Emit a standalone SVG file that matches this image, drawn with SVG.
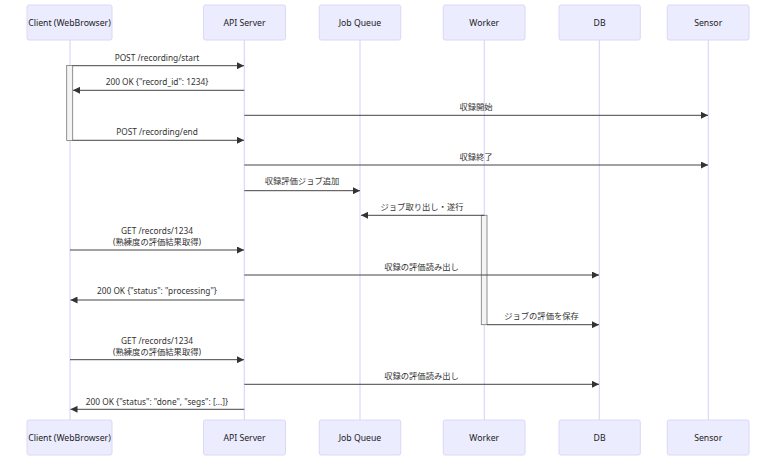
<svg xmlns="http://www.w3.org/2000/svg" width="784" height="467" viewBox="0 0 784 467">
<style>
.actor{fill:#ECECFF;stroke:#dcd6f7;stroke-width:1}
.atext{font-family:"Noto Sans","DejaVu Sans",sans-serif;font-size:8.7px;fill:#222;text-anchor:middle;dominant-baseline:central}
.life{stroke:#ddd6f8;stroke-width:1.2}
.msg{stroke:#444;stroke-width:1;fill:none;marker-end:url(#ah)}
.mtext{font-family:"Noto Sans","Noto Sans CJK JP",sans-serif;font-size:8.3px;fill:#333;text-anchor:middle;dominant-baseline:central}
.act{fill:#f4f4f4;stroke:#777;stroke-width:0.8}
</style>
<defs>
<marker id="ah" markerUnits="userSpaceOnUse" markerWidth="8" markerHeight="7" refX="7" refY="3.5" orient="auto">
<path d="M0,0 L7,3.5 L0,7 z" fill="#333"/>
</marker>
</defs>
<g id="lifelines">
<line class="life" x1="70" y1="40" x2="70" y2="420"/>
<line class="life" x1="244.3" y1="40" x2="244.3" y2="420"/>
<line class="life" x1="360" y1="40" x2="360" y2="420"/>
<line class="life" x1="484.3" y1="40" x2="484.3" y2="420"/>
<line class="life" x1="599.3" y1="40" x2="599.3" y2="420"/>
<line class="life" x1="708.3" y1="40" x2="708.3" y2="420"/>
</g>
<g id="client"><rect class="actor" x="27" y="5" width="85" height="35" rx="2"/><text class="atext" x="69.5" y="23">Client (WebBrowser)</text>
<rect class="actor" x="27" y="420" width="85" height="35" rx="2"/><text class="atext" x="69.5" y="438">Client (WebBrowser)</text></g>
<g id="api"><rect class="actor" x="203.5" y="5" width="82" height="35" rx="2"/><text class="atext" x="244.5" y="23">API Server</text>
<rect class="actor" x="203.5" y="420" width="82" height="35" rx="2"/><text class="atext" x="244.5" y="438">API Server</text></g>
<g id="queue"><rect class="actor" x="319.3" y="5" width="81.4" height="35" rx="2"/><text class="atext" x="360" y="23">Job Queue</text>
<rect class="actor" x="319.3" y="420" width="81.4" height="35" rx="2"/><text class="atext" x="360" y="438">Job Queue</text></g>
<g id="worker"><rect class="actor" x="443.3" y="5" width="81.7" height="35" rx="2"/><text class="atext" x="484.2" y="23">Worker</text>
<rect class="actor" x="443.3" y="420" width="81.7" height="35" rx="2"/><text class="atext" x="484.2" y="438">Worker</text></g>
<g id="db"><rect class="actor" x="559" y="5" width="81.3" height="35" rx="2"/><text class="atext" x="599.6" y="23">DB</text>
<rect class="actor" x="559" y="420" width="81.3" height="35" rx="2"/><text class="atext" x="599.6" y="438">DB</text></g>
<g id="sensor"><rect class="actor" x="667.3" y="5" width="81.7" height="35" rx="2"/><text class="atext" x="708.2" y="23">Sensor</text>
<rect class="actor" x="667.3" y="420" width="81.7" height="35" rx="2"/><text class="atext" x="708.2" y="438">Sensor</text></g>
<g id="activations">
<rect class="act" x="66.7" y="65.5" width="6" height="75"/>
<rect class="act" x="481.3" y="215.3" width="5.7" height="109.4"/>
</g>
<g id="connectors">
<line class="msg" x1="72.7" y1="65.7" x2="244" y2="65.7"/>
<text class="mtext" x="157" y="57">POST /recording/start</text>
<line class="msg" x1="244.3" y1="90.3" x2="73" y2="90.3"/>
<text class="mtext" x="157" y="81.5">200 OK {"record_id": 1234}</text>
<line class="msg" x1="244.3" y1="115.3" x2="708" y2="115.3"/>
<text class="mtext" x="476" y="106.5">収録開始</text>
<line class="msg" x1="72.7" y1="140.3" x2="244" y2="140.3"/>
<text class="mtext" x="157" y="131.5">POST /recording/end</text>
<line class="msg" x1="244.3" y1="165" x2="708" y2="165"/>
<text class="mtext" x="476" y="156">収録終了</text>
<line class="msg" x1="244.3" y1="190.7" x2="360" y2="190.7"/>
<text class="mtext" x="302" y="180.7">収録評価ジョブ追加</text>
<line class="msg" x1="484.3" y1="215.3" x2="361" y2="215.3"/>
<text class="mtext" x="422" y="206">ジョブ取り出し・遂行</text>
<line class="msg" x1="70" y1="250" x2="244" y2="250"/>
<text class="mtext" x="157" y="230.6">GET /records/1234</text>
<text class="mtext" x="157" y="241.8">(熟練度の評価結果取得)</text>
<line class="msg" x1="244.3" y1="275" x2="599" y2="275"/>
<text class="mtext" x="421.5" y="266">収録の評価読み出し</text>
<line class="msg" x1="244.3" y1="300" x2="70.5" y2="300"/>
<text class="mtext" x="157" y="290.7">200 OK {"status": "processing"}</text>
<line class="msg" x1="487" y1="324.7" x2="599" y2="324.7"/>
<text class="mtext" x="541.5" y="315.5">ジョブの評価を保存</text>
<line class="msg" x1="70" y1="359.7" x2="244" y2="359.7"/>
<text class="mtext" x="157" y="340.3">GET /records/1234</text>
<text class="mtext" x="157" y="351.5">(熟練度の評価結果取得)</text>
<line class="msg" x1="244.3" y1="384.3" x2="599" y2="384.3"/>
<text class="mtext" x="421.5" y="375.7">収録の評価読み出し</text>
<line class="msg" x1="244.3" y1="409.3" x2="70.5" y2="409.3"/>
<text class="mtext" x="157" y="401">200 OK {"status": "done", "segs": [...]}</text>
</g>
</svg>
